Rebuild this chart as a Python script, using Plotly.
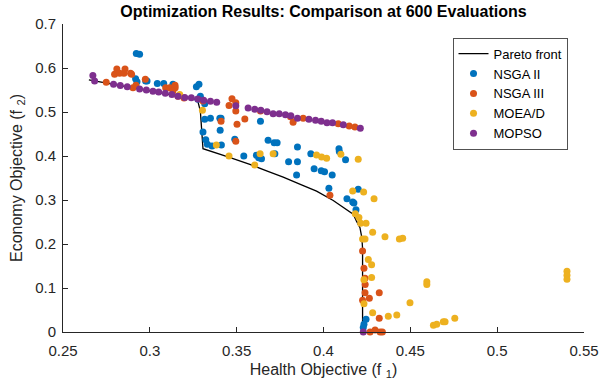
import plotly.graph_objects as go

# Pareto front
pf_x = [0.2649, 0.2800, 0.3000, 0.3150, 0.3274, 0.3291, 0.3299, 0.3306, 0.3450, 0.3576, 0.3680,
        0.3768, 0.3870, 0.3960, 0.4056, 0.4133, 0.4171, 0.4190, 0.4210, 0.4221, 0.4225, 0.4225]
pf_y = [0.573, 0.562, 0.5475, 0.537, 0.528, 0.502, 0.464, 0.4166, 0.398, 0.381, 0.365,
        0.352, 0.335, 0.320, 0.299, 0.279, 0.2675, 0.252, 0.237, 0.214, 0.190, 0.0]

nsga2_x = [0.2922, 0.2941, 0.2918, 0.2926, 0.2976, 0.2984, 0.3043, 0.3080, 0.3133, 0.3268, 0.3283,
           0.3291, 0.3277, 0.3316, 0.3316, 0.3349, 0.3403, 0.3410, 0.3405, 0.3306, 0.3322, 0.3331,
           0.3358, 0.3412, 0.3489, 0.3637, 0.3681, 0.3716, 0.3733, 0.3850, 0.3541, 0.3614, 0.3627,
           0.3643, 0.3720, 0.3799, 0.3850, 0.3927, 0.4089, 0.4091, 0.4127, 0.3845, 0.3946, 0.3987,
           0.4006, 0.4050, 0.4031, 0.4200, 0.4135, 0.4168, 0.4175, 0.4187, 0.4245, 0.4233, 0.4229]
nsga2_y = [0.633, 0.631, 0.5758, 0.569, 0.5705, 0.5705, 0.565, 0.565, 0.563, 0.5575, 0.563,
           0.536, 0.529, 0.519, 0.4833, 0.4856, 0.4856, 0.4856, 0.4588, 0.4545, 0.437, 0.4266,
           0.4227, 0.425, 0.438, 0.4788, 0.4356, 0.430, 0.430, 0.4205, 0.400, 0.4015, 0.396,
           0.394, 0.405, 0.387, 0.387, 0.405, 0.4167, 0.410, 0.3917, 0.357, 0.371, 0.3667,
           0.3643, 0.357, 0.3265, 0.3242, 0.303, 0.2955, 0.293, 0.278, 0.029, 0.0174, 0.010]

nsga3_x = [0.2749, 0.2797, 0.2810, 0.2826, 0.2851, 0.2857, 0.2889, 0.2895, 0.2903, 0.2920, 0.2974,
           0.3091, 0.3114, 0.3145, 0.3146, 0.3133, 0.3162, 0.3197, 0.3306, 0.3473, 0.3456, 0.3495,
           0.3495, 0.3637, 0.3410, 0.3502, 0.3547, 0.3495, 0.3810, 0.3825, 0.3883, 0.4085, 0.4148,
           0.4181, 0.4037, 0.4225, 0.4233, 0.4239, 0.4240, 0.4239, 0.4321, 0.4264, 0.4225, 0.4321,
           0.4268, 0.4297, 0.4326, 0.4339]
nsga3_y = [0.5675, 0.5856, 0.598, 0.588, 0.588, 0.598, 0.588, 0.5856, 0.555, 0.5606, 0.5742,
           0.555, 0.555, 0.5606, 0.555, 0.5477, 0.5356, 0.5318, 0.525, 0.530, 0.515, 0.521,
           0.502, 0.502, 0.4788, 0.472, 0.484, 0.4333, 0.4894, 0.4765, 0.4856, 0.4735, 0.468,
           0.466, 0.3106, 0.184, 0.1447, 0.122, 0.108, 0.0894, 0.0894, 0.0765, 0.072, 0.031,
           0.0, 0.0045, 0.0, 0.0]

moead_x = [0.3172, 0.3303, 0.3383, 0.3456, 0.3635, 0.3710, 0.3604, 0.3960, 0.3989, 0.4018, 0.4100,
           0.4200, 0.4168, 0.4231, 0.4291, 0.4183, 0.4204, 0.4214, 0.4245, 0.4283, 0.4354, 0.4437,
           0.4456, 0.4225, 0.4239, 0.4258, 0.4277, 0.4277, 0.4233, 0.4595, 0.4595, 0.4233, 0.4498,
           0.4283, 0.4373, 0.4422, 0.4633, 0.4652, 0.4690, 0.4700, 0.4756, 0.5402, 0.5402, 0.5402]
moead_y = [0.540, 0.504, 0.425, 0.400, 0.405, 0.405, 0.3795, 0.402, 0.3977, 0.3947, 0.4038,
           0.3925, 0.3205, 0.318, 0.303, 0.269, 0.260, 0.247, 0.247, 0.2265, 0.2166, 0.2114,
           0.213, 0.2114, 0.2114, 0.165, 0.153, 0.124, 0.119, 0.1144, 0.108, 0.064, 0.0667,
           0.044, 0.0356, 0.0386, 0.0152, 0.0174, 0.0235, 0.0235, 0.031, 0.138, 0.129, 0.120]

mopso_x = [0.2672, 0.2682, 0.2791, 0.2830, 0.2870, 0.2941, 0.2980, 0.3018, 0.3051, 0.3089, 0.3127,
           0.3162, 0.3201, 0.3239, 0.3276, 0.3310, 0.3349, 0.3385, 0.3495, 0.3566, 0.3604, 0.3639,
           0.3675, 0.3710, 0.3745, 0.3781, 0.3812, 0.3850, 0.3916, 0.3954, 0.3987, 0.4020, 0.4052,
           0.4114, 0.4212, 0.4229]
mopso_y = [0.583, 0.5705, 0.563, 0.560, 0.5575, 0.552, 0.550, 0.547, 0.5455, 0.5425, 0.540,
           0.536, 0.533, 0.5325, 0.5295, 0.5266, 0.5243, 0.522, 0.514, 0.509, 0.506, 0.504,
           0.5007, 0.496, 0.496, 0.494, 0.4917, 0.4856, 0.4833, 0.481, 0.4788, 0.4758, 0.4758,
           0.471, 0.463, 0.0]

x_ticks = [0.25, 0.3, 0.35, 0.4, 0.45, 0.5, 0.55]
x_tick_text = ["0.25", "0.3", "0.35", "0.4", "0.45", "0.5", "0.55"]
y_ticks = [0, 0.1, 0.2, 0.3, 0.4, 0.5, 0.6, 0.7]
y_tick_text = ["0", "0.1", "0.2", "0.3", "0.4", "0.5", "0.6", "0.7"]

FONT = "Liberation Sans, Arial, sans-serif"
AX = "#262626"
MS = 7

fig = go.Figure()
fig.add_trace(go.Scatter(x=pf_x, y=pf_y, mode="lines", name="Pareto front",
                         line=dict(color="black", width=1.3), cliponaxis=False))
series = [
    ("NSGA II", nsga2_x, nsga2_y, "#0072BD"),
    ("NSGA III", nsga3_x, nsga3_y, "#D95319"),
    ("MOEA/D", moead_x, moead_y, "#EDB120"),
    ("MOPSO", mopso_x, mopso_y, "#7E2F8E"),
]
for name, xs, ys, col in series:
    fig.add_trace(go.Scatter(x=xs, y=ys, mode="markers", name=name,
                             marker=dict(color=col, size=MS, line=dict(width=0)),
                             cliponaxis=False))

fig.update_layout(
    width=599, height=383,
    margin=dict(l=63, r=15, t=24, b=51, pad=0),
    paper_bgcolor="white", plot_bgcolor="white",
    font=dict(family=FONT, size=15, color=AX),
    title=dict(text="<b>Optimization Results: Comparison at 600 Evaluations</b>",
               x=0.5, xref="paper", xanchor="center", y=0.971, yanchor="middle",
               font=dict(family=FONT, size=16, color="black")),
    showlegend=True,
    legend=dict(x=0.748, y=0.955, xanchor="left", yanchor="top",
                bgcolor="white", bordercolor="#262626", borderwidth=0.8,
                font=dict(family=FONT, size=13, color="black"),
                tracegroupgap=0),
)
fig.update_xaxes(range=[0.25, 0.55], tickvals=x_ticks, ticktext=x_tick_text,
                 ticks="inside", ticklen=5, tickcolor=AX, tickwidth=1,
                 showline=True, linecolor=AX, linewidth=1, mirror=False,
                 showgrid=False, zeroline=False, automargin=False,
                 ticklabelstandoff=5,
                 title=dict(text="Health Objective (f <sub>1</sub>)", font=dict(size=16, color=AX), standoff=5),
                 tickfont=dict(size=15, color=AX))
fig.update_yaxes(range=[0, 0.7], tickvals=y_ticks, ticktext=y_tick_text,
                 ticks="inside", ticklen=5, tickcolor=AX, tickwidth=1,
                 showline=True, linecolor=AX, linewidth=1, mirror=False,
                 showgrid=False, zeroline=False, automargin=False,
                 ticklabelstandoff=3,
                 title=dict(text="Economy Objective (f <sub>2</sub>)", font=dict(size=16, color=AX), standoff=8),
                 tickfont=dict(size=15, color=AX))

fig.write_html("out.html")
